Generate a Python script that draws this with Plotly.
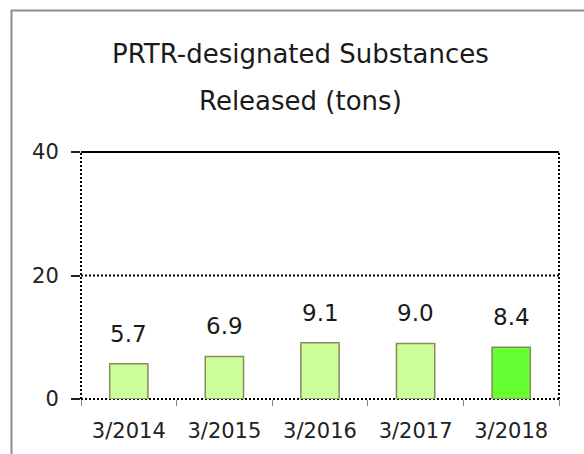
import plotly.graph_objects as go

categories = ["3/2014", "3/2015", "3/2016", "3/2017", "3/2018"]
values = [5.7, 6.9, 9.1, 9.0, 8.4]
labels = ["5.7", "6.9", "9.1", "9.0", "8.4"]
bar_colors = ["#CCFF99", "#CCFF99", "#CCFF99", "#CCFF99", "#66FF33"]
title_lines = ["PRTR-designated Substances", "Released (tons)"]
y_ticks = [0, 20, 40]

FONT = "DejaVu Sans"
W, H = 584, 454
ML, MR, MT, MB = 81, 25, 152, 55

fig = go.Figure()
fig.add_trace(go.Bar(
    x=categories, y=values,
    marker=dict(color=bar_colors, line=dict(color="#8A8A5A", width=1.5)),
    width=0.4, hoverinfo="skip",
))

for c, v, t in zip(categories, values, labels):
    fig.add_annotation(x=c, y=v, text=t, showarrow=False, yanchor="bottom",
                       yshift=15, font=dict(family=FONT, size=23, color="#1a1a1a"))

fig.update_layout(
    width=W, height=H,
    margin=dict(l=ML, r=MR, t=MT, b=MB),
    paper_bgcolor="white", plot_bgcolor="white",
    showlegend=False,
    xaxis=dict(
        type="category", tickson="boundaries", ticks="outside", ticklen=6,
        tickcolor="#888", tickwidth=1, showgrid=False, showline=False,
        tickfont=dict(family=FONT, size=21, color="#222"), zeroline=False,
        range=[-0.5, 4.5], ticklabelstandoff=17,
    ),
    yaxis=dict(
        range=[0, 40], tickvals=y_ticks, ticks="outside", ticklen=9,
        tickcolor="#222", tickwidth=1.5, showgrid=False, showline=False,
        zeroline=False, tickfont=dict(family=FONT, size=21, color="#222"),
        ticklabelstandoff=8,
    ),
)

plot_h = H - MT - MB
plot_w = W - ML - MR
def ypaper(py):
    return (H - MB - py) / plot_h
def xpaper(px):
    return (px - ML) / plot_w

for txt, py in zip(title_lines, [54, 101]):
    fig.add_annotation(x=xpaper(300), y=ypaper(py), xref="paper", yref="paper", text=txt,
                       showarrow=False, yanchor="middle", xanchor="center",
                       font=dict(family=FONT, size=26, color="#1a1a1a"))

dot = dict(color="black", width=2, dash="2px,2px")
fig.add_shape(type="line", xref="x domain", yref="y", x0=0, x1=1, y0=20, y1=20, line=dot, layer="below")
fig.add_shape(type="line", xref="x domain", yref="y domain", x0=0, x1=0, y0=0, y1=1, line=dot)
fig.add_shape(type="line", xref="x domain", yref="y domain", x0=1, x1=1, y0=0, y1=1, line=dot)
fig.add_shape(type="line", xref="x domain", yref="y domain", x0=0, x1=1, y0=0, y1=0, line=dot, layer="below")
fig.add_shape(type="line", xref="x domain", yref="y domain", x0=0, x1=1, y0=1, y1=1,
              line=dict(color="black", width=2))

fig.add_shape(type="line", xref="paper", yref="paper", x0=xpaper(11), x1=xpaper(W),
              y0=ypaper(10.5), y1=ypaper(10.5), line=dict(color="#8C8C8C", width=2))
fig.add_shape(type="line", xref="paper", yref="paper", x0=xpaper(11.5), x1=xpaper(11.5),
              y0=ypaper(10), y1=ypaper(H), line=dict(color="#8C8C8C", width=2))

fig.write_html("out.html", config={"displayModeBar": False},
               post_script="document.body.style.margin='0';document.body.style.overflow='hidden';")
